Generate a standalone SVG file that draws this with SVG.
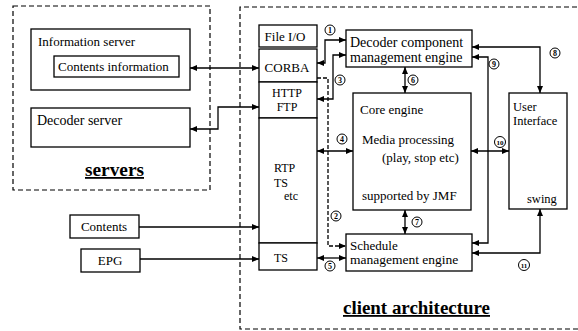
<svg xmlns="http://www.w3.org/2000/svg" width="578" height="331" viewBox="0 0 578 331">
<defs>
<marker id="ah" viewBox="0 0 7 6" refX="7" refY="3" markerWidth="7" markerHeight="6" markerUnits="userSpaceOnUse" orient="auto-start-reverse">
<path d="M0,0 L7,3 L0,6 z" fill="#000"/>
</marker>
<style>
.bx{fill:#fff;stroke:#000;stroke-width:1.3}
.grp{fill:none;stroke:#000;stroke-width:1.2;stroke-dasharray:5 3}
.t{font-family:"Liberation Serif","Times New Roman",serif;font-size:13px;fill:#000}
.m{text-anchor:middle}
.h{font-family:"Liberation Serif","Times New Roman",serif;font-size:18px;font-weight:bold;fill:#000;text-decoration:underline}
.c{fill:#fff;stroke:#000;stroke-width:1}
.n{font-family:"Liberation Serif","Times New Roman",serif;font-size:8px;font-weight:bold;fill:#000;text-anchor:middle}
.ln{fill:none;stroke:#000;stroke-width:1.3}
.bi{marker-start:url(#ah);marker-end:url(#ah)}
.ue{marker-end:url(#ah)}
.dsh{stroke-dasharray:4 2}
</style>
</defs>
<rect width="578" height="331" fill="#fff"/>

<g id="servers">
<rect class="grp" x="13" y="6" width="197" height="184"/>
<text class="h" x="85" y="176" textLength="59" lengthAdjust="spacingAndGlyphs">servers</text>
</g>
<g id="client">
<path class="grp" d="M585,7 H240 V329 H585"/>
<text class="h" x="343" y="314" textLength="147" lengthAdjust="spacingAndGlyphs">client architecture</text>
</g>

<g id="info-server">
<rect class="bx" x="31" y="29" width="159" height="61"/>
<text class="t" x="38" y="46">Information server</text>
</g>
<g id="contents-information">
<rect class="bx" x="54" y="56" width="125" height="21"/>
<text class="t" x="58" y="71">Contents information</text>
</g>
<g id="decoder-server">
<rect class="bx" x="31" y="108" width="159" height="39"/>
<text class="t" x="37" y="125" style="font-size:14px">Decoder server</text>
</g>
<g id="contents">
<rect class="bx" x="70" y="215" width="69" height="23"/>
<text class="t m" x="104" y="231">Contents</text>
</g>
<g id="epg">
<rect class="bx" x="81" y="249" width="59" height="23"/>
<text class="t m" x="110" y="265">EPG</text>
</g>

<g id="file-io">
<rect class="bx" x="259" y="25" width="58" height="22"/>
<text class="t m" x="285" y="41">File I/O</text>
</g>
<g id="corba">
<rect class="bx" x="259" y="49" width="58" height="33"/>
<text class="t m" x="287" y="72">CORBA</text>
</g>
<g id="http-ftp">
<rect class="bx" x="259" y="82" width="58" height="36"/>
<text class="t m" x="287" y="97" style="font-size:12px">HTTP</text>
<text class="t m" x="287" y="111" style="font-size:12px">FTP</text>
</g>
<g id="rtp-ts">
<rect class="bx" x="259" y="118" width="58" height="125"/>
<text class="t" x="274" y="172" style="font-size:12px">RTP</text>
<text class="t" x="274" y="187" style="font-size:12px">TS</text>
<text class="t" x="284" y="200" style="font-size:12px">etc</text>
</g>
<g id="ts">
<rect class="bx" x="259" y="243" width="58" height="27"/>
<text class="t m" x="281" y="262" style="font-size:12px">TS</text>
</g>

<g id="decoder-engine">
<rect class="bx" x="346" y="30" width="126" height="37"/>
<text class="t" x="350" y="47" style="font-size:14px">Decoder component</text>
<text class="t" x="350" y="62" style="font-size:14px">management engine</text>
</g>
<g id="core-engine">
<rect class="bx" x="353" y="93" width="118" height="117"/>
<text class="t" x="360" y="114">Core engine</text>
<text class="t" x="362" y="144">Media processing</text>
<text class="t" x="382" y="162">(play, stop etc)</text>
<text class="t" x="362" y="200">supported by JMF</text>
</g>
<g id="schedule-engine">
<rect class="bx" x="346" y="234" width="126" height="37"/>
<text class="t" x="350" y="250">Schedule</text>
<text class="t" x="350" y="264" style="font-size:13.5px">management engine</text>
</g>
<g id="user-interface">
<rect class="bx" x="509" y="93" width="58" height="116"/>
<text class="t" x="513" y="111" style="font-size:12.5px">User</text>
<text class="t" x="513" y="125" style="font-size:12.5px">Interface</text>
<text class="t" x="527" y="203" style="font-size:12.5px">swing</text>
</g>

<g id="connectors">
<path class="ln ue" d="M139,227 H259"/>
<path class="ln ue" d="M140,259 H259"/>
<path class="ln bi" d="M190,68 H259"/>
<path class="ln bi" d="M190,129 H218 V107 H259"/>
<path class="ln bi" d="M317,63 H325 V40 H346"/>
<path class="ln bi" d="M317,99 H333 V55 H346"/>
<path class="ln ue dsh" d="M317,78 H328 V246 H346"/>
<path class="ln bi" d="M317,151 H353"/>
<path class="ln bi" d="M317,258 H346"/>
<path class="ln bi" d="M405,67 V93"/>
<path class="ln bi" d="M405,210 V234"/>
<path class="ln bi" d="M472,47 H540 V93"/>
<path class="ln bi" d="M472,57 H488 V243 H472"/>
<path class="ln bi" d="M471,151 H509"/>
<path class="ln bi" d="M540,209 V253 H472"/>
<g id="labels">
<circle class="c" cx="330" cy="30" r="5"/><text class="n" x="330" y="33">1</text>
<circle class="c" cx="336" cy="216" r="5"/><text class="n" x="336" y="219">2</text>
<circle class="c" cx="340" cy="80" r="5"/><text class="n" x="340" y="83">3</text>
<circle class="c" cx="342" cy="139" r="5"/><text class="n" x="342" y="142">4</text>
<circle class="c" cx="330" cy="266" r="5"/><text class="n" x="330" y="269">5</text>
<circle class="c" cx="413" cy="80" r="5"/><text class="n" x="413" y="83">6</text>
<circle class="c" cx="417" cy="222" r="5"/><text class="n" x="417" y="225">7</text>
<circle class="c" cx="555" cy="53" r="5"/><text class="n" x="555" y="56">8</text>
<circle class="c" cx="494" cy="64" r="5"/><text class="n" x="494" y="67">9</text>
<circle class="c" cx="500" cy="142" r="5.5"/><text class="n" x="500" y="145" style="font-size:7px">10</text>
<circle class="c" cx="524" cy="265" r="5.5"/><text class="n" x="524" y="268" style="font-size:7px">11</text>
</g>
</g>
</svg>
